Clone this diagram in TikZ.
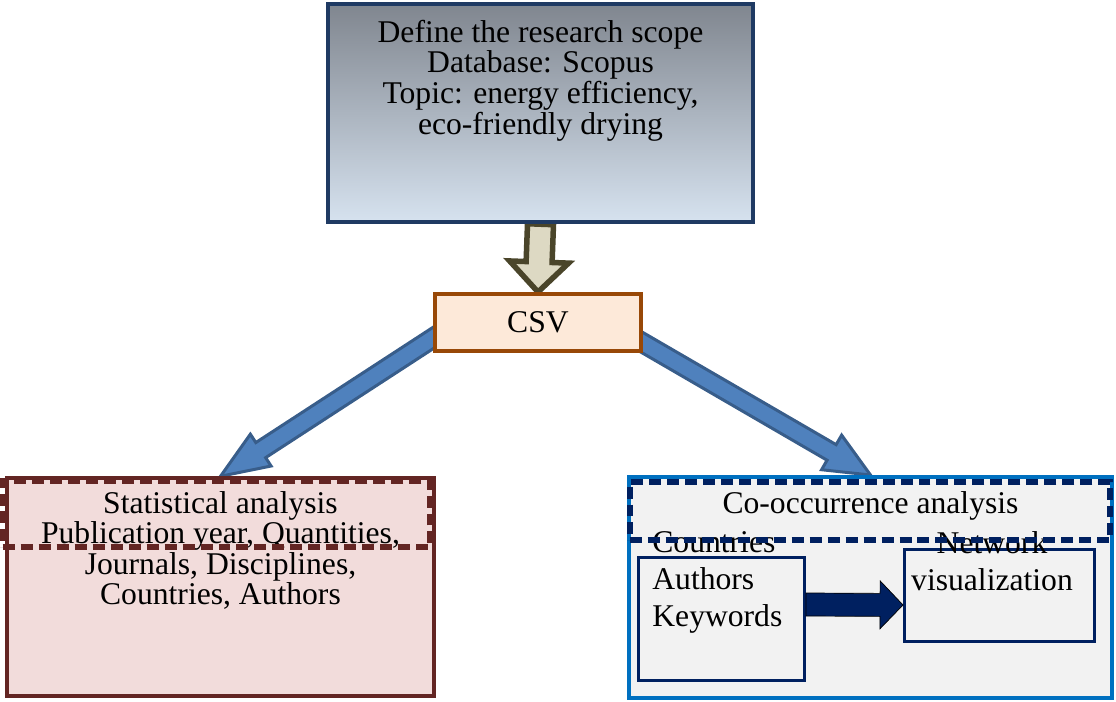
\documentclass[tikz,border=0pt]{standalone}
\usepackage{fontspec}
\setmainfont{Liberation Serif}
\usepackage{xcolor}
\usepackage{tikz}
\usetikzlibrary{positioning, calc, backgrounds}

\definecolor{scopeline}{HTML}{1F3A63}
\definecolor{scopetop}{HTML}{80868F}
\definecolor{scopebot}{HTML}{D6E2EF}
\definecolor{csvline}{HTML}{984807}
\definecolor{csvfill}{HTML}{FDE9D9}
\definecolor{downfill}{HTML}{DDD9C3}
\definecolor{downline}{HTML}{4A452A}
\definecolor{flowfill}{HTML}{4F81BD}
\definecolor{flowline}{HTML}{385D8A}
\definecolor{statline}{HTML}{632523}
\definecolor{statfill}{HTML}{F2DCDB}
\definecolor{coocline}{HTML}{0070C0}
\definecolor{coocfill}{HTML}{F2F2F2}
\definecolor{navy}{HTML}{002060}

% block arrow: [style] {from} {to} {shaft half width} {head half width} {head length}
\newcommand{\blockarrow}[6][]{%
  \draw[#1] ($(#2)!#4!90:(#3)$) -- ($(#3)!#6!(#2)!#4!-90:(#2)$) -- ($(#3)!#6!(#2)!#5!-90:(#2)$)
    -- (#3) -- ($(#3)!#6!(#2)!#5!90:(#2)$) -- ($(#3)!#6!(#2)!#4!90:(#2)$) -- ($(#2)!#4!-90:(#3)$) -- cycle;}

\begin{document}
\begin{tikzpicture}[x=0.02cm, y=-0.02cm,
    box/.style={draw, rectangle, inner sep=0pt},
    headbox/.style={draw, rectangle, inner sep=0pt, line width=0.12cm, dash pattern=on 0.24cm off 0.12cm},
    txt/.style={inner sep=0pt, align=center, font=\fontsize{18}{17.4}\selectfont},
    listtxt/.style={inner sep=0pt, font=\fontsize{18}{21}\selectfont},
    flow/.style={fill=flowfill, draw=flowline, line width=0.06cm},
    downflow/.style={fill=downfill, draw=downline, line width=0.11cm}]

    \useasboundingbox (0,0) rectangle (1116,702);

    % Research scope
    \node (scope) [box, line width=0.09cm, draw=scopeline, top color=scopetop, bottom color=scopebot, minimum width=8.5cm, minimum height=4.36cm] at (540.5,113) {};
    \node (scopetext) [txt, below=0.36cm of scope.north] {Define the research scope\\Database: Scopus\\Topic: energy efficiency,\\eco-friendly drying};

    % Exported data
    \node (csv) [box, line width=0.08cm, draw=csvline, fill=csvfill, minimum width=4.12cm, minimum height=1.14cm, font=\fontsize{18}{17.4}\selectfont] at (538,322.5) {CSV};

    % Statistical branch
    \node (stat) [box, line width=0.07cm, draw=statline, fill=statfill, minimum width=8.54cm, minimum height=4.36cm] at (220.5,587) {};
    \node (stattext) [txt, below=0.29cm of stat.north] {Statistical analysis\\Publication year, Quantities,\\Journals, Disciplines,\\Countries, Authors};

    % Co-occurrence branch
    \node (cooc) [box, line width=0.08cm, draw=coocline, fill=coocfill, minimum width=9.66cm, minimum height=4.42cm] at (870.5,587.5) {};
    \node (cooctext) [txt, below=0.32cm of cooc.north] {Co-occurrence analysis};
    \node (authors) [box, line width=0.06cm, draw=navy, minimum width=3.32cm, minimum height=2.46cm] at (721.5,619) {};
    \node (network) [box, line width=0.06cm, draw=navy, minimum width=3.8cm, minimum height=1.84cm] at (999.5,595.5) {};
    \node (authtext) [listtxt, align=left, anchor=north west] at ($(authors.north west)+(15,-25)$) {Countries\\Authors\\Keywords};
    \node (nettext) [listtxt, align=center, anchor=north] at ($(network.north)+(-7.5,-17)$) {Network\\visualization};

    % Dashed headers
    \node (stathead) [headbox, draw=statline, minimum width=8.56cm, minimum height=1.34cm] at (216.5,514) {};
    \node (coochead) [headbox, draw=navy, minimum width=9.62cm, minimum height=1.18cm] at (870,511) {};

    % Flow arrows
    \begin{scope}[on background layer]
        \coordinate (ltail) at (450,327);
        \coordinate (rtail) at (625,332.5);
        \blockarrow[downflow]{scope.south}{csv.north}{0.26cm}{0.59cm}{0.6cm}
        \blockarrow[flow]{ltail}{stat.north}{0.18cm}{0.38cm}{0.96cm}
        \blockarrow[flow]{rtail}{cooc.north}{0.18cm}{0.4cm}{0.9cm}
    \end{scope}
    \coordinate (navytail) at ([yshift=0.29cm]authors.east);
    \coordinate (navytip) at ([yshift=-0.19cm]network.west);
    \blockarrow[fill=navy]{navytail}{navytip}{0.23cm}{0.48cm}{0.46cm}
\end{tikzpicture}
\end{document}
